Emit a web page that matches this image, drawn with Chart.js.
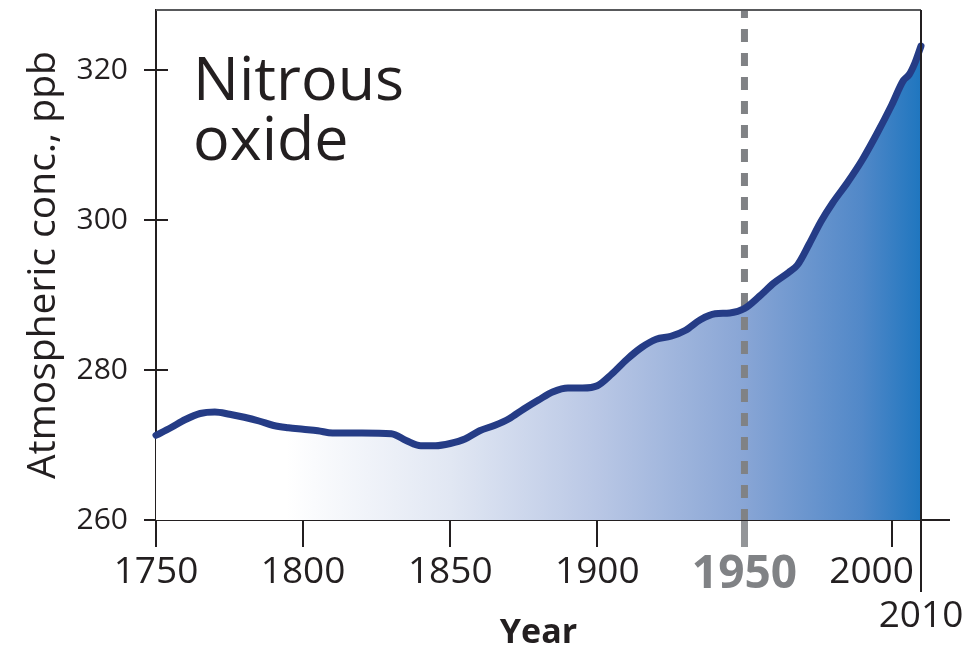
<!DOCTYPE html>
<html>
<head>
<meta charset="utf-8">
<title>Nitrous oxide</title>
<script src="https://cdn.jsdelivr.net/npm/chart.js@4.4.1/dist/chart.umd.min.js"></script>
<style>
  html, body { margin: 0; padding: 0; background: #fff; }
  canvas { display: block; }
</style>
</head>
<body>
<canvas id="n2oChart" width="969" height="658"></canvas>
<script>
// N2O concentration
const years = [1750, 1755, 1760, 1765, 1770, 1775, 1780, 1785, 1790, 1795,
               1800, 1805, 1810, 1820, 1830, 1835, 1840, 1845, 1850, 1855,
               1860, 1865, 1870, 1875, 1880, 1885, 1890, 1895, 1900, 1905,
               1910, 1915, 1920, 1925, 1930, 1935, 1940, 1945, 1950, 1955,
               1960, 1965, 1968, 1972, 1976, 1980, 1985, 1990, 1995, 2000,
               2004, 2006, 2008, 2010];
const ppb = [271.3, 272.3, 273.4, 274.2, 274.4, 274.1, 273.7, 273.2, 272.6, 272.3,
             272.1, 271.9, 271.6, 271.6, 271.5, 270.6, 269.9, 269.9, 270.2, 270.8,
             271.9, 272.6, 273.5, 274.8, 276.0, 277.1, 277.6, 277.6, 277.9, 279.5,
             281.4, 283.0, 284.1, 284.5, 285.3, 286.7, 287.5, 287.6, 288.2, 289.8,
             291.6, 293.0, 294.0, 296.8, 299.8, 302.3, 305.0, 308.0, 311.5, 315.3,
             318.6, 319.4, 321.0, 323.2];
const yTickValues = [260, 280, 300, 320];
const xTickValues = [1750, 1800, 1850, 1900, 1950, 2000];
const markYear = 1950;
const endYear = 2010;
const titleLines = ["Nitrous", "oxide"];

const ink = "#231f20";
const grey = "#808285";
const fontFamily = "'Open Sans', sans-serif";

// extra decorations: dashed 1950 marker, frame, x labels, big title
const decorations = {
    id: "decorations",
    beforeDatasetsDraw(chart) {
        const { ctx, chartArea, scales } = chart;
        const x = scales.x.getPixelForValue(markYear);
        ctx.save();
        ctx.strokeStyle = grey;
        ctx.lineWidth = 7;
        ctx.setLineDash([13, 11]);
        ctx.lineDashOffset = 5;
        ctx.beginPath();
        ctx.moveTo(x, chartArea.top);
        ctx.lineTo(x, chartArea.bottom);
        ctx.stroke();
        ctx.restore();
    },
    afterDraw(chart) {
        const { ctx, chartArea, scales } = chart;
        const xs = scales.x, ys = scales.y;
        ctx.save();
        // top frame line
        ctx.strokeStyle = "#58595b";
        ctx.lineWidth = 2;
        ctx.beginPath();
        ctx.moveTo(chartArea.left, chartArea.top);
        ctx.lineTo(chartArea.right, chartArea.top);
        ctx.stroke();
        // right axis running down to the 2010 label
        const xEnd = xs.getPixelForValue(endYear);
        ctx.strokeStyle = ink;
        ctx.beginPath();
        ctx.moveTo(xEnd, chartArea.top);
        ctx.lineTo(xEnd, chartArea.bottom + 72);
        ctx.stroke();
        // x axis runs a little past the right edge
        ctx.beginPath();
        ctx.moveTo(chartArea.right, chartArea.bottom);
        ctx.lineTo(chartArea.right + 29, chartArea.bottom);
        ctx.stroke();
        // inner half of the y ticks
        yTickValues.slice(1).forEach(v => {
            const y = ys.getPixelForValue(v);
            ctx.beginPath();
            ctx.moveTo(chartArea.left, y);
            ctx.lineTo(chartArea.left + 12, y);
            ctx.stroke();
        });
        // x tick labels
        ctx.textAlign = "center";
        ctx.textBaseline = "alphabetic";
        xTickValues.forEach(v => {
            let px = xs.getPixelForValue(v);
            if (v === markYear) {
                ctx.fillStyle = grey;
                ctx.font = "bold 46px " + fontFamily;
                ctx.fillText(String(v), px, chartArea.bottom + 68);
                return;
            }
            if (v === 2000) px -= 20;
            ctx.fillStyle = ink;
            ctx.font = "37px " + fontFamily;
            ctx.fillText(String(v), px, chartArea.bottom + 63);
        });
        ctx.fillStyle = ink;
        ctx.font = "37px " + fontFamily;
        ctx.fillText(String(endYear), xEnd, chartArea.bottom + 107);
        // big title
        ctx.textAlign = "left";
        ctx.font = "61px " + fontFamily;
        titleLines.forEach((t, i) => {
            ctx.fillText(t, chartArea.left + 37, chartArea.top + 90 + i * 60);
        });
        ctx.restore();
    }
};

const points = years.map((yr, i) => ({ x: yr, y: ppb[i] }));

new Chart(document.getElementById("n2oChart"), {
    type: "line",
    data: {
        datasets: [{
            label: "N2O",
            data: points,
            borderColor: "#253c86",
            borderWidth: 7,
            borderCapStyle: "round",
            borderJoinStyle: "round",
            cubicInterpolationMode: "monotone",
            pointRadius: 0,
            clip: 8,
            fill: "start",
            backgroundColor: function (context) {
                const area = context.chart.chartArea;
                if (!area) return "rgba(0,0,0,0)";
                const g = context.chart.ctx.createLinearGradient(area.left, 0, area.right, 0);
                g.addColorStop(0.0, "#ffffff");
                g.addColorStop(0.17, "#ffffff");
                g.addColorStop(0.385, "#e1e7f3");
                g.addColorStop(0.577, "#b9c7e5");
                g.addColorStop(0.77, "#88a5d5");
                g.addColorStop(0.923, "#5188c8");
                g.addColorStop(1.0, "#1f76bf");
                return g;
            }
        }]
    },
    options: {
        responsive: false,
        animation: false,
        layout: { padding: { top: 10, right: 48, left: 0, bottom: 0 } },
        plugins: {
            legend: { display: false },
            tooltip: { enabled: false },
            filler: { drawTime: "beforeDatasetsDraw" }
        },
        scales: {
            x: {
                type: "linear",
                min: 1750,
                max: endYear,
                afterBuildTicks: scale => { scale.ticks = xTickValues.map(v => ({ value: v })); },
                afterFit: scale => { scale.height = 138; scale.paddingLeft = 0; scale.paddingRight = 0; },
                ticks: { display: false },
                grid: {
                    drawOnChartArea: false,
                    drawTicks: true,
                    tickLength: 27,
                    color: c => (c.tick && c.tick.value === markYear) ? "#939598" : ink,
                    lineWidth: c => (c.tick && c.tick.value === markYear) ? 7 : 2
                },
                border: { display: true, color: ink, width: 2 },
                title: {
                    display: true,
                    text: "Year",
                    color: ink,
                    font: { family: fontFamily, size: 34, weight: "bold" },
                    padding: { top: 0, bottom: 4 }
                }
            },
            y: {
                type: "linear",
                min: 260,
                max: 328,
                afterBuildTicks: scale => { scale.ticks = yTickValues.map(v => ({ value: v })); },
                afterFit: scale => { scale.width = 156; scale.paddingTop = 0; scale.paddingBottom = 0; },
                ticks: {
                    color: ink,
                    padding: 16,
                    font: { family: fontFamily, size: 30 }
                },
                grid: {
                    drawOnChartArea: false,
                    drawTicks: true,
                    tickLength: 12,
                    color: ink,
                    lineWidth: 2
                },
                border: { display: true, color: ink, width: 2 },
                title: {
                    display: true,
                    text: "Atmospheric conc., ppb",
                    color: ink,
                    font: { family: fontFamily, size: 39 },
                    padding: { top: 20, bottom: 0 }
                }
            }
        }
    },
    plugins: [decorations]
});
</script>
</body>
</html>
